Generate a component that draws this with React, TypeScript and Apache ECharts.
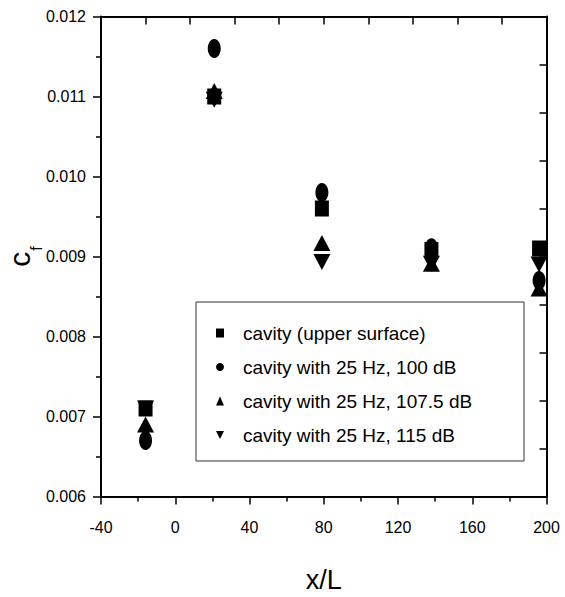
import React, { useEffect, useRef } from 'react';
import * as echarts from 'echarts';

// ---- data ----
const xPositions = [-16, 21, 79, 138, 196];
const cavityUpper = [0.0071, 0.011, 0.0096, 0.00908, 0.0091];
const cavity100 = [0.0067, 0.0116, 0.0098, 0.00911, 0.0087];
const cavity1075 = [0.0069, 0.01107, 0.00917, 0.00891, 0.0086];
const cavity115 = [0.0071, 0.01096, 0.00893, 0.00891, 0.0089];
const seriesNames = [
  'cavity (upper surface)',
  'cavity with 25 Hz, 100 dB',
  'cavity with 25 Hz, 107.5 dB',
  'cavity with 25 Hz, 115 dB',
];
const xTickValues = [-40, 0, 40, 80, 120, 160, 200];
const yTickLabels = ['0.006', '0.007', '0.008', '0.009', '0.010', '0.011', '0.012'];

const DOWN_TRI = 'path://M0,0L10,0L5,10Z';

function hasFont(name: string): boolean {
  try {
    const ctx = document.createElement('canvas').getContext('2d');
    if (!ctx) return false;
    const s = 'cavity wmWM 0123';
    ctx.font = '40px monospace';
    const w1 = ctx.measureText(s).width;
    ctx.font = `40px "${name}", monospace`;
    const w2 = ctx.measureText(s).width;
    return Math.abs(w1 - w2) > 0.5;
  } catch (e) {
    return false;
  }
}

export default function App() {
  const ref = useRef<HTMLDivElement>(null);
  useEffect(() => {
    if (!ref.current) return;
    const narrow = hasFont('Liberation Sans Narrow');
    const fam = narrow ? "'Liberation Sans Narrow', 'Arial Narrow', sans-serif" : "'Liberation Sans', Arial, sans-serif";
    const k = narrow ? 1 : 0.82;
    const chart = echarts.init(ref.current, undefined, { renderer: 'svg' });
    const pts = (ys: number[]) => xPositions.map((x, i) => [x, ys[i]]);
    const yMin = parseFloat(yTickLabels[0]);
    const yMax = parseFloat(yTickLabels[yTickLabels.length - 1]);
    const yInt = parseFloat(yTickLabels[1]) - yMin;
    const axisLineStyle = { color: '#000', width: 2 };
    const tickLabel = { color: '#000', fontFamily: fam, fontSize: Math.round(19.5 * k) };
    const mk = { color: '#000', opacity: 1 };
    const regular = "'Liberation Sans', Arial, sans-serif";
    const option: any = {
      animation: false,
      backgroundColor: '#fff',
      grid: { left: 101, right: 18.5, top: 16.5, bottom: 100.5, containLabel: false, outerBoundsMode: 'none' },
      xAxis: [
        {
          type: 'value',
          position: 'bottom',
          min: xTickValues[0],
          max: xTickValues[xTickValues.length - 1],
          interval: xTickValues[1] - xTickValues[0],
          name: 'x/L',
          nameLocation: 'middle',
          nameGap: 70,
          nameMoveOverlap: false,
          nameTextStyle: { color: '#000', fontFamily: fam, fontSize: Math.round(33 * k) },
          axisLine: { show: true, onZero: false, lineStyle: axisLineStyle },
          axisTick: { show: true, inside: false, length: 8, lineStyle: { color: '#000', width: 1.5 } },
          minorTick: { show: true, splitNumber: 2, length: 5, lineStyle: { color: '#000', width: 1.5 } },
          axisLabel: { ...tickLabel, margin: 23 },
          splitLine: { show: false },
        },
        {
          type: 'value',
          position: 'top',
          min: 0,
          max: 10,
          interval: 1,
          axisLine: { show: true, onZero: false, lineStyle: axisLineStyle },
          axisTick: { show: true, inside: true, length: 8, lineStyle: { color: '#000', width: 1.5 } },
          axisLabel: { show: false },
          splitLine: { show: false },
        },
      ],
      yAxis: [
        {
          type: 'value',
          position: 'left',
          min: yMin,
          max: yMax,
          interval: yInt,
          name: '{c|c}{f|f}',
          nameLocation: 'middle',
          nameRotate: 90,
          nameGap: 67,
          nameMoveOverlap: false,
          nameTextStyle: {
            color: '#000',
            rich: {
              c: { fontFamily: regular, fontSize: 30, lineHeight: 30, color: '#000', verticalAlign: 'top' },
              f: { fontFamily: regular, fontSize: 16, lineHeight: 16, color: '#000', verticalAlign: 'top', padding: [24, 0, 0, 1] },
            },
          },
          axisLine: { show: true, onZero: false, lineStyle: axisLineStyle },
          axisTick: { show: true, inside: false, length: 8, lineStyle: { color: '#000', width: 1.5 } },
          minorTick: { show: true, splitNumber: 2, length: 5, lineStyle: { color: '#000', width: 1.5 } },
          axisLabel: { ...tickLabel, margin: 15, formatter: (v: number) => v.toFixed(3) },
          splitLine: { show: false },
        },
        {
          type: 'value',
          position: 'right',
          min: 0,
          max: 10,
          interval: 1,
          axisLine: { show: true, onZero: false, lineStyle: axisLineStyle },
          axisTick: { show: true, inside: true, length: 7, lineStyle: { color: '#000', width: 1.5 } },
          axisLabel: { show: false },
          splitLine: { show: false },
        },
      ],
      legend: {
        orient: 'vertical',
        left: 216,
        top: 321,
        padding: 0,
        itemGap: 10,
        itemWidth: 8,
        itemHeight: 9,
        textStyle: { color: '#000', fontFamily: fam, fontSize: Math.round(23 * k), lineHeight: 24, padding: [0, 0, 0, 14] },
        data: [
          { name: seriesNames[0], icon: 'rect' },
          { name: seriesNames[1], icon: 'circle' },
          { name: seriesNames[2], icon: 'triangle' },
          { name: seriesNames[3], icon: DOWN_TRI },
        ],
      },
      graphic: [
        {
          type: 'rect',
          shape: { x: 196, y: 302, width: 328, height: 159 },
          style: { fill: '#fff', stroke: '#333', lineWidth: 1 },
          z: 1,
          silent: true,
        },
      ],
      series: [
        { name: seriesNames[0], type: 'scatter', symbol: 'rect', symbolSize: [14, 16], data: pts(cavityUpper), itemStyle: mk, z: 3 },
        { name: seriesNames[1], type: 'scatter', symbol: 'circle', symbolSize: [13, 19], data: pts(cavity100), itemStyle: mk, z: 3 },
        { name: seriesNames[2], type: 'scatter', symbol: 'triangle', symbolSize: [17, 16], data: pts(cavity1075), itemStyle: mk, z: 3 },
        { name: seriesNames[3], type: 'scatter', symbol: DOWN_TRI, symbolSize: [17, 16], data: pts(cavity115), itemStyle: mk, z: 3 },
      ],
    };
    chart.setOption(option);
    return () => chart.dispose();
  }, []);
  return <div ref={ref} style={{ position: 'fixed', left: 0, top: 0, width: 565, height: 597 }} />;
}
